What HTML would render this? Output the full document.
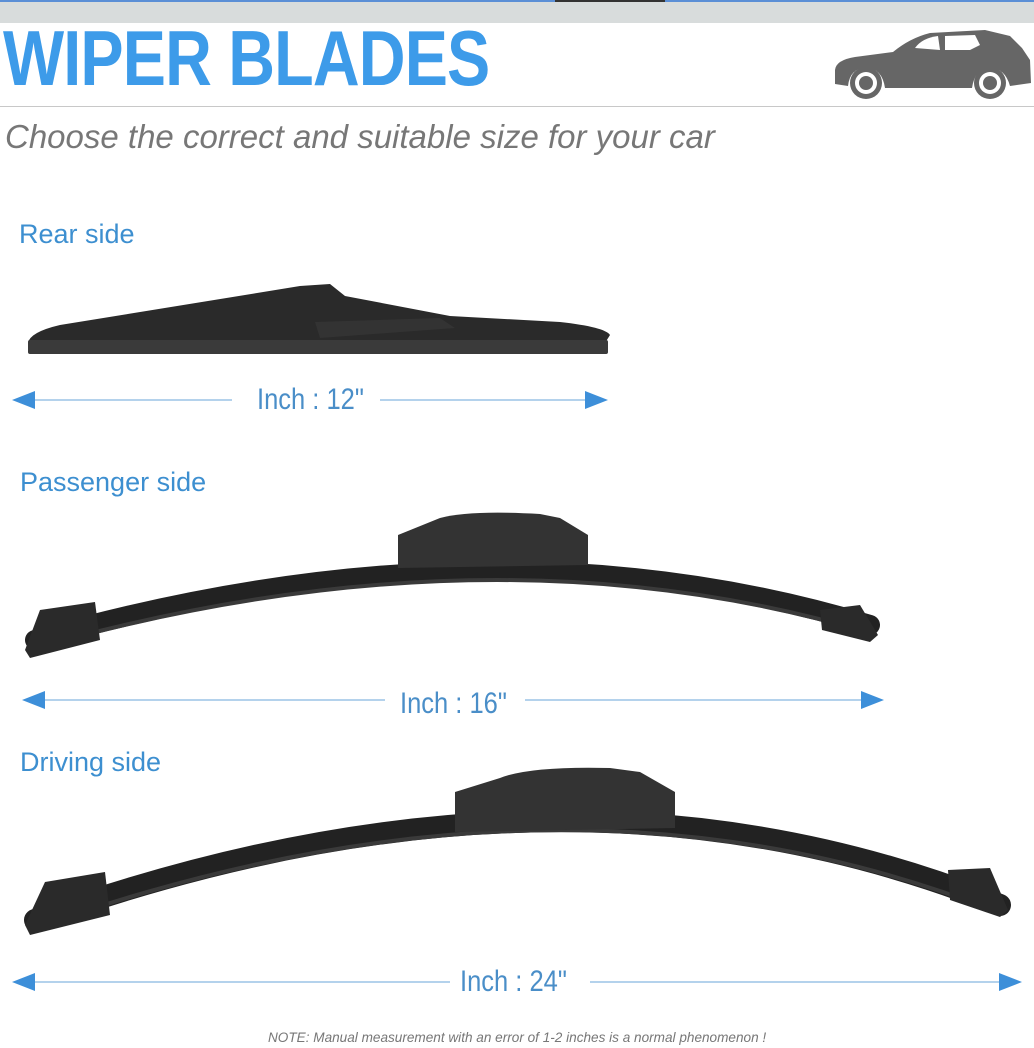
<!DOCTYPE html>
<html><head><meta charset="utf-8"><style>
body{margin:0;width:1034px;height:1048px;background:#fff;overflow:hidden;position:relative;font-family:"Liberation Sans",sans-serif}
.t{position:absolute;white-space:nowrap}
</style></head><body>
<div style="position:absolute;left:0;top:0;width:1034px;height:2px;background:#5b8fd6"></div>
<div style="position:absolute;left:0;top:2px;width:1034px;height:21px;background:#d8dcdc"></div>
<div style="position:absolute;left:555px;top:0;width:110px;height:2px;background:#333"></div>
<div class="t" style="left:3px;top:13px;font-size:78px;font-weight:bold;color:#3d9be9;letter-spacing:-1px;transform:scaleX(0.83);transform-origin:left">WIPER BLADES</div>
<div style="position:absolute;left:0;top:106px;width:1034px;height:1px;background:#c8c8c8"></div>
<div class="t" style="left:5px;top:118px;font-size:33px;font-style:italic;color:#777">Choose the correct and suitable size for your car</div>
<div class="t" style="left:19px;top:219px;font-size:27px;color:#3d8fd0">Rear side</div>
<div class="t" style="left:20px;top:467px;font-size:27px;color:#3d8fd0">Passenger side</div>
<div class="t" style="left:20px;top:747px;font-size:27px;color:#3d8fd0">Driving side</div>
<div class="t" style="left:268px;top:1029px;font-size:14px;font-style:italic;color:#777;transform:scaleX(0.97);transform-origin:left">NOTE: Manual measurement with an error of 1-2 inches is a normal phenomenon !</div>
<svg width="1034" height="1048" style="position:absolute;left:0;top:0">
<g fill="#666">
<path d="M835 70 Q836 60 855 57 L893 52 Q910 38 930 33 L985 30 L1010 36 L1022 48 L1030 60 L1031 83 L1010 86 Q1005 68 990 68 Q975 68 972 88 L885 88 Q882 68 866 68 Q850 68 848 86 L835 84 Z"/>
<circle cx="866" cy="83" r="16"/><circle cx="990" cy="83" r="16"/>
</g>
<g fill="#fff"><circle cx="866" cy="83" r="11"/><circle cx="990" cy="83" r="11"/>
<path d="M915 48 Q922 38 938 36 L940 50 Z"/><path d="M945 36 L975 35 L980 45 L970 50 L945 50 Z"/></g>
<g fill="#666"><circle cx="866" cy="83" r="7"/><circle cx="990" cy="83" r="7"/></g>
<g fill="#2a2a2a">
<path d="M28 343 Q30 332 60 325 L300 286 L330 284 L345 296 L450 316 L560 322 Q605 327 610 335 L605 343 L28 350 Z"/>
<rect x="28" y="340" width="580" height="14" rx="2" fill="#3a3a3a"/>
<path d="M315 322 L440 318 L455 328 L320 338 Z" fill="#333"/>
</g>
<g fill="none" stroke-linecap="round">
<path d="M35 640 Q490 510 870 625" stroke="#222" stroke-width="20"/>
<path d="M35 648 Q490 520 870 633" stroke="#3a3a3a" stroke-width="4"/>
</g>
<path d="M398 535 L440 518 Q470 510 540 514 L560 518 L588 535 L588 565 L398 568 Z" fill="#333"/>
<path d="M25 650 L40 610 L95 602 L100 640 L30 658 Z" fill="#2a2a2a"/>
<path d="M820 610 L860 605 L878 635 L870 642 L822 630 Z" fill="#2a2a2a"/>
<g fill="none" stroke-linecap="round">
<path d="M35 920 Q565 730 1000 905" stroke="#222" stroke-width="22"/>
<path d="M35 928 Q565 740 1000 913" stroke="#3a3a3a" stroke-width="4"/>
</g>
<path d="M455 792 L500 778 Q530 766 610 768 L640 772 L675 792 L675 828 L455 832 Z" fill="#333"/>
<path d="M25 925 L45 882 L105 872 L110 915 L30 935 Z" fill="#2a2a2a"/>
<path d="M948 870 L990 868 L1008 910 L1000 917 L950 900 Z" fill="#2a2a2a"/>
<g stroke="#9cc4e6" stroke-width="1.5">
<line x1="30" y1="400" x2="232" y2="400"/><line x1="380" y1="400" x2="590" y2="400"/>
<line x1="40" y1="700" x2="385" y2="700"/><line x1="525" y1="700" x2="866" y2="700"/>
<line x1="30" y1="982" x2="450" y2="982"/><line x1="590" y1="982" x2="1004" y2="982"/>
</g>
<g fill="#3d8fd9">
<path d="M12 400 L35 391 L35 409 Z"/><path d="M608 400 L585 391 L585 409 Z"/>
<path d="M22 700 L45 691 L45 709 Z"/><path d="M884 700 L861 691 L861 709 Z"/>
<path d="M12 982 L35 973 L35 991 Z"/><path d="M1022 982 L999 973 L999 991 Z"/>
</g>
</svg>
<div class="t" style="left:257px;top:383px;font-size:30px;color:#4a8ec8;transform:scaleX(0.85);transform-origin:left">Inch : 12"</div>
<div class="t" style="left:400px;top:687px;font-size:30px;color:#4a8ec8;transform:scaleX(0.85);transform-origin:left">Inch : 16"</div>
<div class="t" style="left:460px;top:965px;font-size:30px;color:#4a8ec8;transform:scaleX(0.85);transform-origin:left">Inch : 24"</div>
</body></html>
